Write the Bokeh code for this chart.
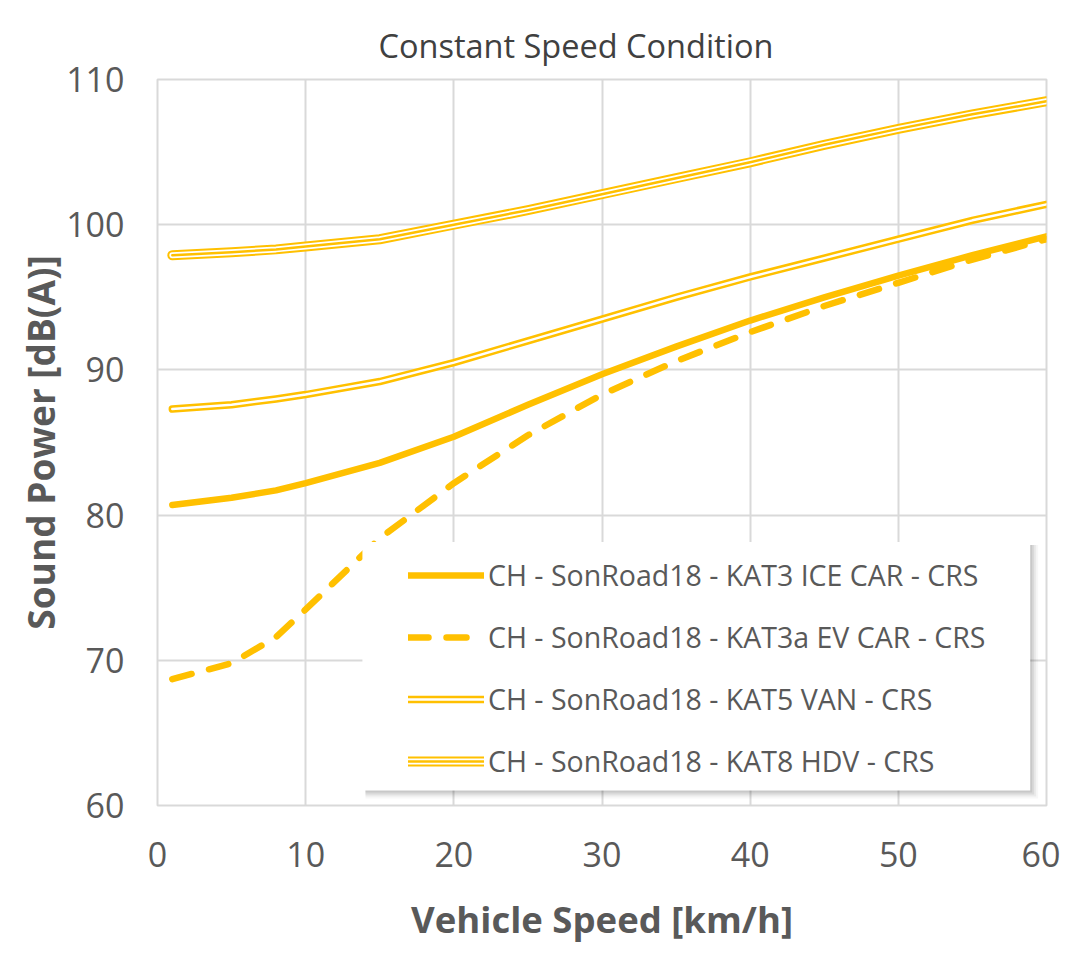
from bokeh.plotting import figure
from bokeh.models import Legend, LegendItem, BoxAnnotation, Range1d, FixedTicker
from bokeh.embed import file_html
from bokeh.resources import INLINE

# ---- data ----
speed = [1, 5, 8, 10, 15, 20, 25, 30, 35, 40, 45, 50, 55, 60]
ice_car = [80.7, 81.2, 81.7, 82.2, 83.6, 85.4, 87.6, 89.7, 91.6, 93.4, 95.0, 96.5, 97.9, 99.2]
ev_car = [68.7, 69.8, 71.6, 73.5, 78.4, 82.2, 85.5, 88.3, 90.6, 92.6, 94.4, 96.0, 97.6, 99.0]
van = [87.3, 87.6, 88.0, 88.3, 89.2, 90.5, 92.0, 93.5, 95.0, 96.4, 97.7, 99.0, 100.3, 101.4]
hdv = [97.9, 98.1, 98.3, 98.5, 99.0, 100.0, 101.0, 102.1, 103.2, 104.3, 105.5, 106.6, 107.6, 108.5]

labels = [
    "CH - SonRoad18 - KAT3 ICE CAR - CRS",
    "CH - SonRoad18 - KAT3a EV CAR - CRS",
    "CH - SonRoad18 - KAT5 VAN - CRS",
    "CH - SonRoad18 - KAT8 HDV - CRS",
]
x_ticks = [0, 10, 20, 30, 40, 50, 60]
y_ticks = [60, 70, 80, 90, 100, 110]

GOLD = "#FFC000"
TEXT = "#595959"
GRID = "#D9D9D9"
FONT = "Open Sans"

p = figure(width=1060, height=946, output_backend="svg", toolbar_location=None,
           x_range=Range1d(0, 60), y_range=Range1d(60, 110),
           min_border_left=157, min_border_right=14, min_border_top=79, min_border_bottom=137)
p.background_fill_color = "white"
p.border_fill_color = "white"
p.outline_line_color = GRID
p.outline_line_width = 2

# title
p.title.text = "Constant Speed Condition"
p.title.text_font = FONT
p.title.text_font_style = "normal"
p.title.text_font_size = "32.5px"
p.title.text_color = "#404040"
p.title.align = "left"
p.title.offset = 221
p.title.standoff = 24

# axes
for ax in (p.xaxis[0], p.yaxis[0]):
    ax.axis_line_color = None
    ax.major_tick_line_color = None
    ax.minor_tick_line_color = None
    ax.major_label_text_font = FONT
    ax.major_label_text_font_size = "34px"
    ax.major_label_text_color = TEXT
    ax.axis_label_text_font = FONT
    ax.axis_label_text_font_style = "bold"
    ax.axis_label_text_color = TEXT

p.xaxis.axis_label_text_font_size = "36.5px"
p.yaxis.axis_label_text_font_size = "37px"
p.xaxis.ticker = FixedTicker(ticks=x_ticks)
p.yaxis.ticker = FixedTicker(ticks=y_ticks)
p.xaxis.axis_label = "Vehicle Speed [km/h]"
p.yaxis.axis_label = "Sound Power [dB(A)]"
p.xaxis.major_label_standoff = 30
p.yaxis.major_label_standoff = 27
p.xaxis.axis_label_standoff = 24
p.yaxis.axis_label_standoff = -3

p.xgrid.ticker = FixedTicker(ticks=x_ticks)
p.ygrid.ticker = FixedTicker(ticks=y_ticks)
p.grid.grid_line_color = GRID
p.grid.grid_line_width = 2

# series
r_ice = p.line(speed, ice_car, line_color=GOLD, line_width=6.5, line_cap="round", line_join="round")
r_ev = p.line(speed, ev_car, line_color=GOLD, line_width=6.5, line_dash="20 18", line_cap="round", line_join="round")
r_van1 = p.line(speed, van, line_color=GOLD, line_width=7.5, line_cap="round", line_join="round")
r_van2 = p.line(speed, van, line_color="white", line_width=2.5, line_cap="round", line_join="round")
r_hdv1 = p.line(speed, hdv, line_color=GOLD, line_width=10, line_cap="round", line_join="round")
r_hdv2 = p.line(speed, hdv, line_color="white", line_width=6, line_cap="round", line_join="round")
r_hdv3 = p.line(speed, hdv, line_color=GOLD, line_width=2.5, line_cap="round", line_join="round")

# legend background with soft drop shadow (layout decoration, data units of the frame)
box_l, box_r, box_b, box_t = 13.83, 58.9, 61.03, 78.15
px_x, px_y = 60 / 889.0, 50 / 730.0
for k, a in [(8, 0.03), (6, 0.05), (4, 0.07), (2, 0.08)]:
    p.add_layout(BoxAnnotation(left=box_l + 3 * px_x, right=box_r + k * px_x,
                               bottom=box_b - k * px_y, top=box_t - 3 * px_y,
                               fill_color="black", fill_alpha=a, line_color=None))
p.add_layout(BoxAnnotation(left=box_l, right=box_r, bottom=box_b, top=box_t,
                           fill_color="white", fill_alpha=1.0, line_color=None))

legend = Legend(items=[
    LegendItem(label=labels[0], renderers=[r_ice]),
    LegendItem(label=labels[1], renderers=[r_ev]),
    LegendItem(label=labels[2], renderers=[r_van1, r_van2]),
    LegendItem(label=labels[3], renderers=[r_hdv1, r_hdv2, r_hdv3]),
], location=(251, 25))
legend.background_fill_alpha = 0
legend.border_line_color = None
legend.padding = 0
legend.margin = 0
legend.spacing = 24
legend.glyph_width = 76
legend.glyph_height = 30
legend.label_height = 30
legend.label_standoff = 4
legend.label_text_font = FONT
legend.label_text_font_size = "28.5px"
legend.label_text_color = TEXT
p.add_layout(legend)

open("out.html", "w").write(file_html(p, INLINE))
